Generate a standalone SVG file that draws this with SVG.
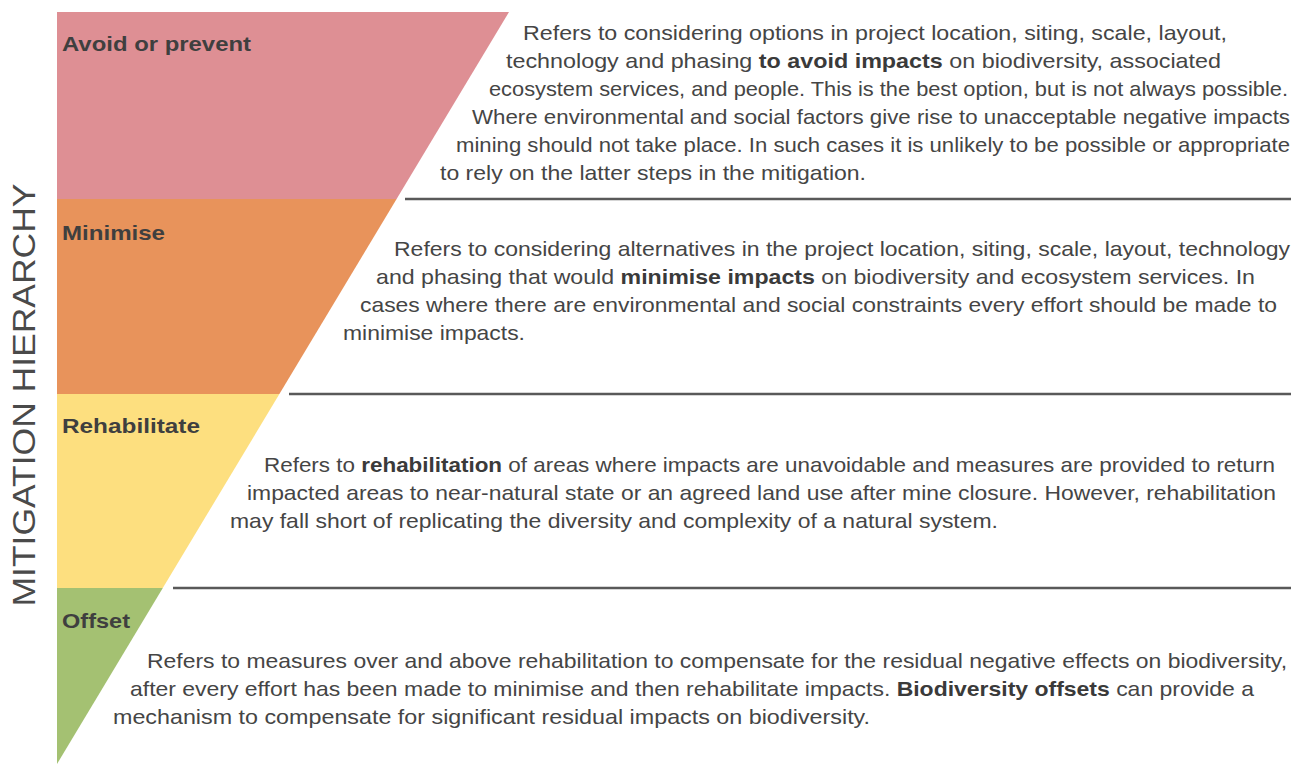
<svg xmlns="http://www.w3.org/2000/svg" width="1293" height="764" viewBox="0 0 1293 764">
<style>
.body{font-family:"Liberation Sans",Arial,sans-serif;font-size:21px;fill:#454545}
.b{font-weight:bold;fill:#3a3a3a}
.lbl{font-family:"Liberation Sans",Arial,sans-serif;font-size:21px;font-weight:bold;fill:#3f3f3f}
.sep{stroke:#595959;stroke-width:2.5;fill:none}
.vt{font-family:"Liberation Sans",Arial,sans-serif;font-size:31px;fill:#4a4a4a}
</style>
<rect width="1293" height="764" fill="#ffffff"/>
<g id="title">
<text class="vt" transform="translate(35,395) rotate(-90)" text-anchor="middle" textLength="423" lengthAdjust="spacingAndGlyphs">MITIGATION HIERARCHY</text>
</g>
<g id="avoid">
<polygon points="57,12 509,12 396.6,199 57,199" fill="#DE8F94"/>
<text class="lbl" x="62" y="51" textLength="189" lengthAdjust="spacingAndGlyphs">Avoid or prevent</text>
<text class="body" x="523" y="39.5" textLength="704" lengthAdjust="spacingAndGlyphs">Refers to considering options in project location, siting, scale, layout,</text>
<text class="body" x="506" y="67.5" textLength="715" lengthAdjust="spacingAndGlyphs">technology and phasing <tspan class="b">to avoid impacts</tspan> on biodiversity, associated</text>
<text class="body" x="489" y="95.5" textLength="799" lengthAdjust="spacingAndGlyphs">ecosystem services, and people. This is the best option, but is not always possible.</text>
<text class="body" x="472" y="123.5" textLength="818" lengthAdjust="spacingAndGlyphs">Where environmental and social factors give rise to unacceptable negative impacts</text>
<text class="body" x="456" y="151.5" textLength="834" lengthAdjust="spacingAndGlyphs">mining should not take place. In such cases it is unlikely to be possible or appropriate</text>
<text class="body" x="440" y="179.5" textLength="426" lengthAdjust="spacingAndGlyphs">to rely on the latter steps in the mitigation.</text>
</g>
<g id="minimise">
<polygon points="57,199 396.6,199 279.4,394 57,394" fill="#E8935B"/>
<text class="lbl" x="62" y="240" textLength="103" lengthAdjust="spacingAndGlyphs">Minimise</text>
<text class="body" x="394" y="256" textLength="896" lengthAdjust="spacingAndGlyphs">Refers to considering alternatives in the project location, siting, scale, layout, technology</text>
<text class="body" x="376" y="284" textLength="879" lengthAdjust="spacingAndGlyphs">and phasing that would <tspan class="b">minimise impacts</tspan> on biodiversity and ecosystem services. In</text>
<text class="body" x="360" y="312" textLength="917" lengthAdjust="spacingAndGlyphs">cases where there are environmental and social constraints every effort should be made to</text>
<text class="body" x="343" y="340" textLength="182" lengthAdjust="spacingAndGlyphs">minimise impacts.</text>
</g>
<g id="rehabilitate">
<polygon points="57,394 279.4,394 162.8,588 57,588" fill="#FDDF7F"/>
<text class="lbl" x="62" y="433" textLength="138" lengthAdjust="spacingAndGlyphs">Rehabilitate</text>
<text class="body" x="264" y="472" textLength="1011" lengthAdjust="spacingAndGlyphs">Refers to <tspan class="b">rehabilitation</tspan> of areas where impacts are unavoidable and measures are provided to return</text>
<text class="body" x="247" y="500" textLength="1029" lengthAdjust="spacingAndGlyphs">impacted areas to near-natural state or an agreed land use after mine closure. However, rehabilitation</text>
<text class="body" x="230" y="528" textLength="768" lengthAdjust="spacingAndGlyphs">may fall short of replicating the diversity and complexity of a natural system.</text>
</g>
<g id="offset">
<polygon points="57,588 162.8,588 57,764" fill="#A4C172"/>
<text class="lbl" x="62" y="628" textLength="68" lengthAdjust="spacingAndGlyphs">Offset</text>
<text class="body" x="147" y="668" textLength="1140" lengthAdjust="spacingAndGlyphs">Refers to measures over and above rehabilitation to compensate for the residual negative effects on biodiversity,</text>
<text class="body" x="130" y="696" textLength="1124" lengthAdjust="spacingAndGlyphs">after every effort has been made to minimise and then rehabilitate impacts. <tspan class="b">Biodiversity offsets</tspan> can provide a</text>
<text class="body" x="113" y="724" textLength="757" lengthAdjust="spacingAndGlyphs">mechanism to compensate for significant residual impacts on biodiversity.</text>
</g>
<g id="connectors">
<line class="sep" x1="405" y1="199" x2="1291" y2="199"/>
<line class="sep" x1="289" y1="394" x2="1291" y2="394"/>
<line class="sep" x1="173" y1="588" x2="1291" y2="588"/>
</g>
</svg>
